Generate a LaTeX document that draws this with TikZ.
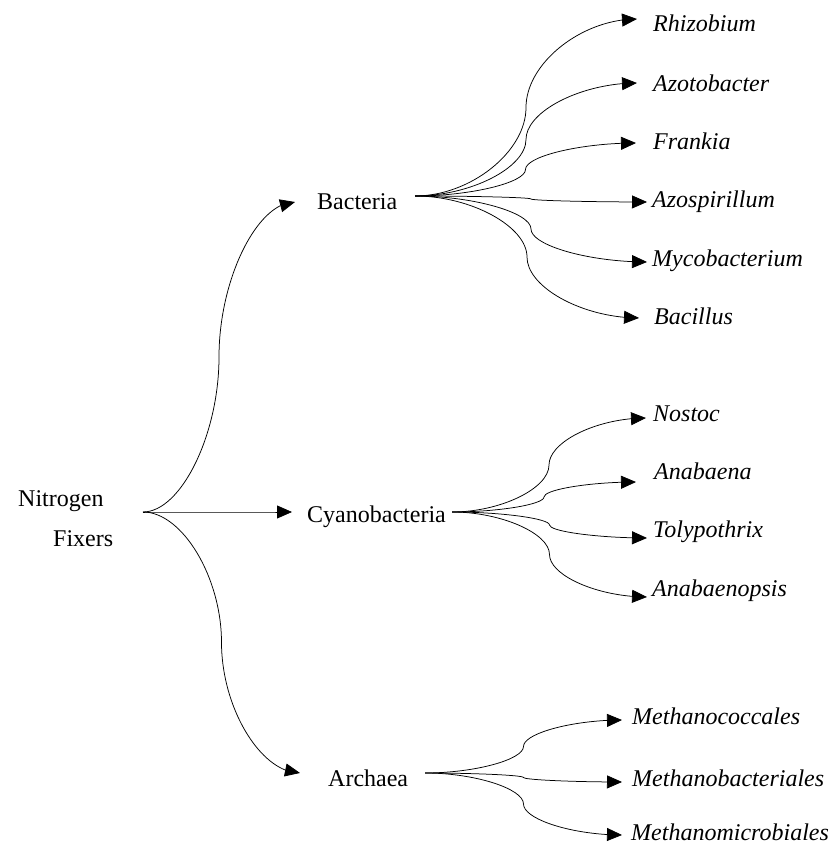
\documentclass[tikz,border=0pt]{standalone}
\usepackage{fontspec}
\setmainfont{Liberation Serif}
\usetikzlibrary{arrows.meta,calc,bending}
\tikzset{
  lbl/.style={anchor=base west,inner sep=0pt,font=\fontsize{24}{28}\selectfont},
  sp/.style={lbl,font=\fontsize{24}{28}\selectfont\itshape},
  conn/.style={line width=0.75pt,-{Triangle[length=15pt,width=13pt,flex]}}
}
\newcommand\brcurve[2]{%
  \draw[conn] let \p1=(#1), \p2=(#2) in (\p1)
    .. controls ({\x1+0.25*(\x2-\x1)},\y1) and ({\x1+0.5*(\x2-\x1)},{\y1+0.25*(\y2-\y1)})
    .. ({\x1+0.5*(\x2-\x1)},{\y1+0.5*(\y2-\y1)})
    .. controls ({\x1+0.5*(\x2-\x1)},{\y1+0.75*(\y2-\y1)}) and ({\x1+0.75*(\x2-\x1)},\y2)
    .. (\p2);}
\begin{document}
\begin{tikzpicture}[x=1pt,y=1pt]
\useasboundingbox (0,0) rectangle (834,845);
% labels
\node[lbl] (nitro) at (18,338) {Nitrogen};
\node[lbl] (fix) at (53,298) {Fixers};
\node[lbl] (bac) at (317,635) {Bacteria};
\node[lbl] (cya) at (307,322) {Cyanobacteria};
\node[lbl] (arc) at (328,58) {Archaea};
\node[sp] (rhi) at (653,813) {Rhizobium};
\node[sp] (azo) at (653,753) {Azotobacter};
\node[sp] (fra) at (653,695) {Frankia};
\node[sp] (azs) at (652,637) {Azospirillum};
\node[sp] (myc) at (652,578) {Mycobacterium};
\node[sp] (bcl) at (654,520) {Bacillus};
\node[sp] (nos) at (653,423) {Nostoc};
\node[sp] (ana) at (654,365) {Anabaena};
\node[sp] (tol) at (653,307) {Tolypothrix};
\node[sp] (anp) at (652,248) {Anabaenopsis};
\node[sp] (mco) at (632,120) {Methanococcales};
\node[sp] (mba) at (632,58) {Methanobacteriales};
\node[sp] (mmi) at (631,5) {Methanomicrobiales};
% connector ends
\coordinate (root) at (143,333);
\coordinate (bac-o) at (415,649);
\coordinate (cya-o) at (452,333);
\coordinate (arc-o) at (425,72);
\coordinate (bac-i) at (295,643);
\coordinate (cya-i) at (292,333);
\coordinate (arc-i) at (300,72);
\coordinate (rhi-i) at (637,826);
\coordinate (azo-i) at (637,762);
\coordinate (fra-i) at (636,702);
\coordinate (azs-i) at (647,643);
\coordinate (myc-i) at (647,583);
\coordinate (bcl-i) at (639,527);
\coordinate (nos-i) at (646,427);
\coordinate (ana-i) at (636,363);
\coordinate (tol-i) at (647,307);
\coordinate (anp-i) at (647,248);
\coordinate (mco-i) at (622,125);
\coordinate (mba-i) at (622,63);
\coordinate (mmi-i) at (622,10);
% connectors
\brcurve{root}{bac-i}
\brcurve{root}{cya-i}
\brcurve{root}{arc-i}
\foreach \t in {rhi,azo,fra,azs,myc,bcl} {\brcurve{bac-o}{\t-i}}
\foreach \t in {nos,ana,tol,anp} {\brcurve{cya-o}{\t-i}}
\foreach \t in {mco,mba,mmi} {\brcurve{arc-o}{\t-i}}
\end{tikzpicture}
\end{document}
